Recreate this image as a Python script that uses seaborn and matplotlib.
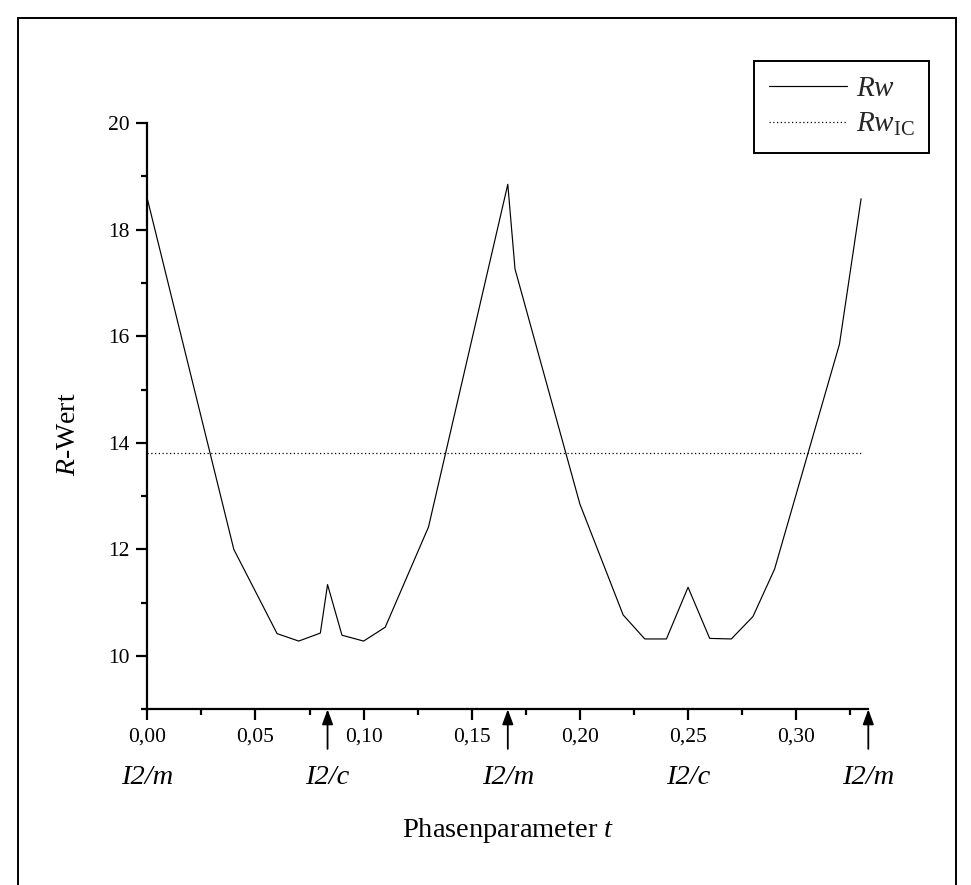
import matplotlib
matplotlib.use("Agg")
import matplotlib.pyplot as plt
import matplotlib.patches as mpatches
from matplotlib.ticker import MultipleLocator, FuncFormatter
import seaborn as sns
import pandas as pd

# ---- data ----
t_values = [0.0, 0.04, 0.06, 0.07, 0.08, 1/12, 0.09, 0.10, 0.11, 0.13,
            1/6, 0.17, 0.20, 0.22, 0.23, 0.24, 0.25, 0.26, 0.27, 0.28,
            0.29, 0.32, 0.33]
rw_values = [18.58, 12.00, 10.42, 10.28, 10.43, 11.34, 10.39, 10.28, 10.54, 12.42,
             18.85, 17.26, 12.85, 10.77, 10.32, 10.32, 11.29, 10.33, 10.32, 10.74,
             11.63, 15.85, 18.58]
rw_ic_value = 13.80
ic_t_range = [0.0, 0.33]
phase_positions = [0.0, 1/12, 1/6, 1/4, 1/3]
phase_labels = ["I2/m", "I2/c", "I2/m", "I2/c", "I2/m"]
arrow_positions = [1/12, 1/6, 1/3]

sns.set_theme(style="ticks")
plt.rcParams["font.family"] = ["Liberation Serif", "DejaVu Serif"]
plt.rcParams["mathtext.fontset"] = "custom"
plt.rcParams["mathtext.rm"] = "Liberation Serif"
plt.rcParams["mathtext.it"] = "Liberation Serif:italic"
plt.rcParams["mathtext.bf"] = "Liberation Serif:bold"

W, H = 971, 885
fig = plt.figure(figsize=(W / 100, H / 100), dpi=100)
fig.patch.set_facecolor("white")
ax = fig.add_axes([147.3 / W, 1 - 709.3 / H, (868.3 - 147.3) / W, (709.3 - 123) / H])
ax.set_facecolor("white")

df = pd.DataFrame({"t": t_values, "Rw": rw_values})
sns.lineplot(data=df, x="t", y="Rw", ax=ax, color="black", lw=0.85,
             sort=False, estimator=None, label="$Rw$")
df_ic = pd.DataFrame({"t": ic_t_range, "Rw": [rw_ic_value] * len(ic_t_range)})
sns.lineplot(data=df_ic, x="t", y="Rw", ax=ax, color="black", lw=0.9,
             linestyle=(0, (1, 2)), estimator=None,
             label=r"$Rw_{\mathrm{IC}}$")

ax.set_xlim(0, 1/3)
ax.set_ylim(9, 20)
ax.xaxis.set_major_locator(MultipleLocator(0.05))
ax.xaxis.set_minor_locator(MultipleLocator(0.025))
ax.yaxis.set_major_locator(MultipleLocator(2))
ax.yaxis.set_minor_locator(MultipleLocator(1))
ax.xaxis.set_major_formatter(FuncFormatter(lambda v, p: f"{v:.2f}".replace(".", ",")))
ax.yaxis.set_major_formatter(FuncFormatter(lambda v, p: f"{v:.0f}"))

for side in ["top", "right"]:
    ax.spines[side].set_visible(False)
for side in ["left", "bottom"]:
    ax.spines[side].set_linewidth(1.6)
    ax.spines[side].set_color("black")

ax.tick_params(axis="both", which="major", direction="out", length=8, width=1.6,
               colors="black", labelsize=15.5, pad=5)
ax.tick_params(axis="both", which="minor", direction="out", length=4.5, width=1.6,
               colors="black")
ax.grid(False)

ax.set_xlabel("Phasenparameter $t$", fontsize=20.5, color="black")
ax.xaxis.set_label_coords(0.5, -0.182)
ax.set_ylabel("$R$-Wert", fontsize=20, color="black")
ax.yaxis.set_label_coords(-0.092, 0.47)

# phase labels and arrows
for pos, lab in zip(phase_positions, phase_labels):
    ax.annotate(lab, xy=(pos, 0), xycoords=("data", "axes fraction"),
                xytext=(0, -49), textcoords="offset points",
                ha="center", va="center", fontsize=20.5, fontstyle="italic",
                color="black", annotation_clip=False)
for pos in arrow_positions:
    ax.annotate("", xy=(pos, 0), xycoords=("data", "axes fraction"),
                xytext=(0, -28.5), textcoords="offset points",
                arrowprops=dict(arrowstyle="-|>,head_length=0.6,head_width=0.22",
                                mutation_scale=15, color="black", lw=1.3,
                                shrinkA=0, shrinkB=0),
                annotation_clip=False)

leg = ax.legend(loc="upper right", bbox_to_anchor=(929.3 / W, 1 - 61 / H),
                bbox_transform=fig.transFigure, frameon=True, fancybox=False,
                fontsize=21, handlelength=2.7, handletextpad=0.3,
                borderpad=0.5, labelspacing=0.3, borderaxespad=0)
leg.get_frame().set_edgecolor("black")
leg.get_frame().set_linewidth(1.4)
leg.get_frame().set_facecolor("white")
leg.get_frame().set_alpha(1)

# outer frame
fig.patches.append(mpatches.Rectangle((18 / W, -0.05), (956 - 18) / W, 1.05 - 18 / H,
                                      transform=fig.transFigure, fill=False,
                                      edgecolor="black", lw=1.4))

fig.savefig("out.png", dpi=100, facecolor="white")
